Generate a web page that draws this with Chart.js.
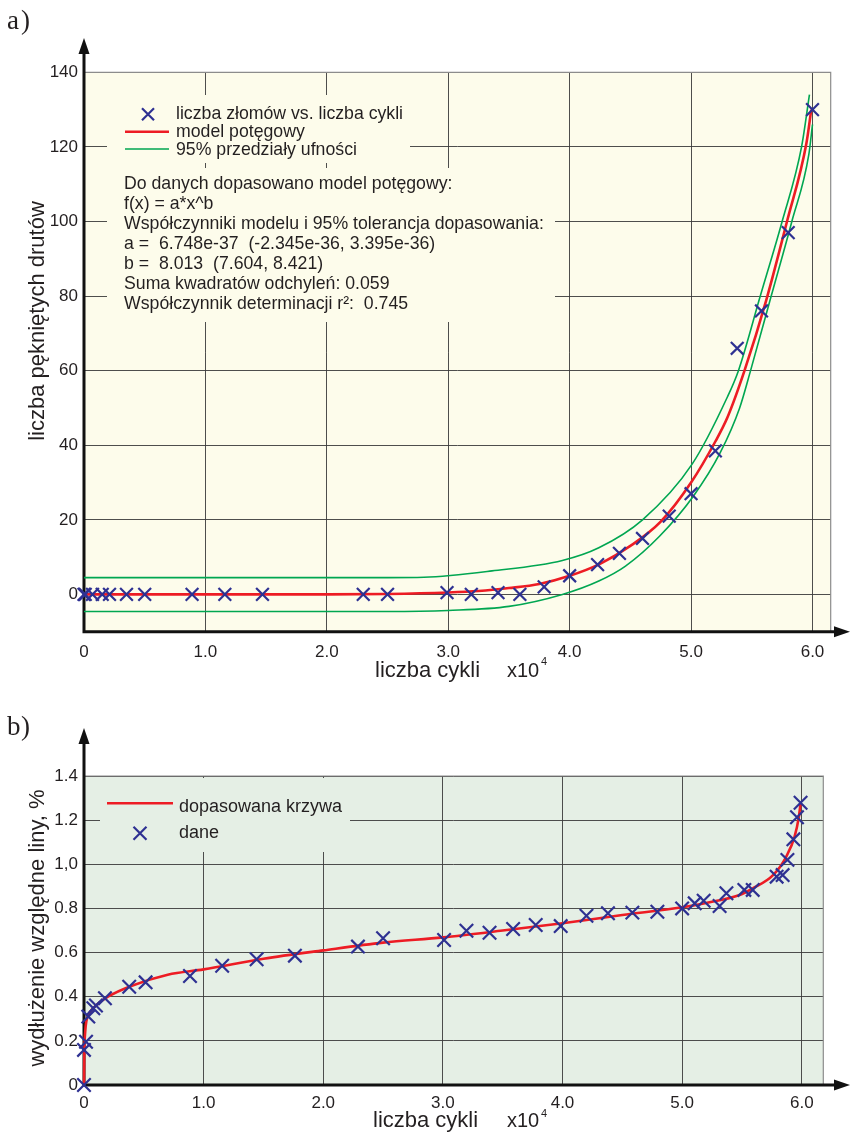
<!DOCTYPE html>
<html>
<head>
<meta charset="utf-8">
<script src="https://cdn.jsdelivr.net/npm/chart.js@4.4.0/dist/chart.umd.min.js"></script>
<style>
  html, body { margin: 0; padding: 0; background: #fff; }
  #wrapA { position: absolute; left: 0; top: 0; width: 850px; height: 690px; }
  #wrapB { position: absolute; left: 0; top: 690px; width: 850px; height: 443px; }
</style>
</head>
<body>
<div id="wrapA"><canvas id="chartA" width="850" height="690"></canvas></div>
<div id="wrapB"><canvas id="chartB" width="850" height="443"></canvas></div>
<script>
// ---- a) liczba złomów vs liczba cykli (x10^4) ----
const cyclesA = [0, 0.01, 0.07, 0.15, 0.21, 0.35, 0.5, 0.89, 1.16, 1.47, 2.3, 2.5, 2.99, 3.19, 3.41, 3.59, 3.79, 4.0, 4.23, 4.41, 4.6, 4.82, 5.0, 5.2, 5.38, 5.58, 5.8, 6.0];
const breaksA = [0, 0, 0, 0, 0, 0, 0, 0, 0, 0, 0, 0, 0.5, 0, 0.5, 0, 2, 5, 8, 11, 15, 21, 27, 38.5, 66, 76, 97, 130];
const modelX = [0, 1.0, 2.0, 2.5, 3.0, 3.25, 3.5, 3.75, 4.0, 4.25, 4.5, 4.75, 5.0, 5.2, 5.3, 5.44, 5.62, 5.79, 5.95, 5.99];
const modelY = [0, 0, 0, 0.1, 0.5, 0.9, 1.7, 2.8, 5, 8.2, 13, 19.5, 30, 41, 47.5, 60, 79, 100, 121, 130];
const upperX = [0, 2.5, 2.8, 3.36, 3.94, 4.24, 4.6, 5.01, 5.3, 5.39, 5.57, 5.75, 5.91, 5.975];
const upperY = [4.5, 4.5, 4.6, 6.3, 9.1, 12.5, 20, 35, 53, 60, 80, 100, 120, 134];
const lowerX = [0, 2.5, 3.0, 3.5, 3.94, 4.24, 4.46, 4.74, 5.02, 5.24, 5.4, 5.49, 5.66, 5.83, 5.97, 6.0];
const lowerY = [-4.6, -4.6, -4.3, -3.2, 0, 3.6, 7.6, 15.6, 26.4, 38, 50, 60, 80, 100, 118, 126];
const xTicks = [0, 1, 2, 3, 4, 5, 6];
const xLabels = ['0', '1.0', '2.0', '3.0', '4.0', '5.0', '6.0'];
const yTicksA = [0, 20, 40, 60, 80, 100, 120, 140];
const yLabelsA = ['0', '20', '40', '60', '80', '100', '120', '140'];
const legendA = ['liczba złomów vs. liczba cykli', 'model potęgowy', '95% przedziały ufności'];
const notesA = [
  'Do danych dopasowano model potęgowy:',
  'f(x) = a*x^b',
  'Współczynniki modelu i 95% tolerancja dopasowania:',
  'a =  6.748e-37  (-2.345e-36, 3.395e-36)',
  'b =  8.013  (7.604, 8.421)',
  'Suma kwadratów odchyleń: 0.059',
  'Współczynnik determinacji r²:  0.745'
];

// ---- b) wydłużenie względne liny ----
const cyclesB = [0, 0, 0.017, 0.036, 0.078, 0.1, 0.175, 0.378, 0.515, 0.886, 1.155, 1.443, 1.763, 2.29, 2.5, 3.01, 3.197, 3.39, 3.587, 3.776, 3.985, 4.2, 4.38, 4.584, 4.793, 5.0, 5.105, 5.18, 5.313, 5.37, 5.52, 5.59, 5.79, 5.84, 5.88, 5.93, 5.96, 5.99];
const elongB = [0, 0.159, 0.196, 0.31, 0.348, 0.36, 0.393, 0.445, 0.465, 0.494, 0.54, 0.57, 0.586, 0.627, 0.665, 0.657, 0.699, 0.69, 0.707, 0.725, 0.72, 0.767, 0.778, 0.781, 0.785, 0.80, 0.823, 0.835, 0.811, 0.869, 0.884, 0.884, 0.944, 0.951, 1.02, 1.113, 1.213, 1.279];
const fitX = [0, 0.003, 0.01, 0.02, 0.05, 0.1, 0.2, 0.4, 0.7, 1.0, 1.5, 2.0, 2.5, 3.0, 3.5, 4.0, 4.5, 5.0, 5.2, 5.48, 5.59, 5.76, 5.87, 5.94, 5.976, 5.99];
const fitY = [0, 0.15, 0.24, 0.29, 0.33, 0.36, 0.4, 0.45, 0.5, 0.524, 0.572, 0.61, 0.645, 0.669, 0.7, 0.733, 0.77, 0.805, 0.825, 0.861, 0.891, 0.951, 1.034, 1.125, 1.216, 1.276];
const yTicksB = [0, 0.2, 0.4, 0.6, 0.8, 1.0, 1.2, 1.4];
const yLabelsB = ['0', '0.2', '0.4', '0.6', '0.8', '1,0', '1.2', '1.4'];
const legendB = ['dopasowana krzywa', 'dane'];

const sans = '"Liberation Sans", Arial, sans-serif';
const serif = '"Liberation Serif", "Times New Roman", serif';
const ink = '#231F20';
const markColor = '#2E3192';
const redColor = '#ED1C24';
const greenColor = '#00A651';
const gridColor = '#3a3a3a';

function pts(xs, ys) {
  return xs.map((x, i) => ({ x: x, y: ys[i] }));
}

function cross(ctx, x, y, r) {
  ctx.beginPath();
  ctx.moveTo(x - r, y - r); ctx.lineTo(x + r, y + r);
  ctx.moveTo(x + r, y - r); ctx.lineTo(x - r, y + r);
  ctx.stroke();
}

function panelPlugin(cfg) {
  return {
    id: 'panel',
    beforeDraw(chart) {
      const a = chart.chartArea, ctx = chart.ctx;
      ctx.save();
      ctx.fillStyle = cfg.bg;
      ctx.fillRect(a.left, a.top, a.right - a.left, a.bottom - a.top);
      ctx.restore();
    },
    beforeDatasetsDraw(chart) {
      const a = chart.chartArea, ctx = chart.ctx;
      ctx.save();
      // boxes under the legend / notes hide the grid
      ctx.fillStyle = cfg.bg;
      cfg.boxes.forEach(b => ctx.fillRect(b[0], b[1], b[2], b[3]));
      ctx.strokeStyle = '#8c8c8c';
      ctx.lineWidth = 1.2;
      ctx.beginPath();
      ctx.moveTo(a.left, a.top); ctx.lineTo(a.right, a.top); ctx.lineTo(a.right, a.bottom);
      ctx.stroke();
      // axes with arrows
      ctx.strokeStyle = '#111';
      ctx.fillStyle = '#111';
      ctx.lineWidth = 3;
      ctx.beginPath();
      ctx.moveTo(a.left - 1.5, a.bottom); ctx.lineTo(cfg.xTip - 10, a.bottom);
      ctx.moveTo(a.left, a.bottom + 1.5); ctx.lineTo(a.left, cfg.yTip + 10);
      ctx.stroke();
      ctx.beginPath();
      ctx.moveTo(cfg.xTip, a.bottom); ctx.lineTo(cfg.xTip - 16, a.bottom - 5.5); ctx.lineTo(cfg.xTip - 16, a.bottom + 5.5); ctx.closePath();
      ctx.moveTo(a.left, cfg.yTip); ctx.lineTo(a.left - 5.5, cfg.yTip + 16); ctx.lineTo(a.left + 5.5, cfg.yTip + 16); ctx.closePath();
      ctx.fill();
      ctx.restore();
    },
    afterDraw(chart) {
      chart.ctx.save();
      cfg.drawText(chart.ctx);
      chart.ctx.restore();
    }
  };
}

function scalesFor(xMax, yMin, yMax, yTicks, yLabels, xHeight, xPad) {
  return {
    x: {
      type: 'linear', min: 0, max: xMax,
      afterBuildTicks: s => { s.ticks = xTicks.map(v => ({ value: v })); },
      afterFit: s => { s.height = xHeight; },
      grid: { color: gridColor, lineWidth: 0.9, drawTicks: false },
      border: { display: false },
      ticks: { padding: xPad, color: ink, maxRotation: 0, autoSkip: false,
               font: { family: sans, size: 17 }, callback: (v, i) => xLabels[i] }
    },
    y: {
      type: 'linear', min: yMin, max: yMax,
      afterBuildTicks: s => { s.ticks = yTicks.map(v => ({ value: v })); },
      afterFit: s => { s.width = 84; },
      grid: { color: gridColor, lineWidth: 0.9, drawTicks: false },
      border: { display: false },
      ticks: { padding: 6, color: ink, autoSkip: false,
               font: { family: sans, size: 17 }, callback: (v, i) => yLabels[i] }
    }
  };
}

const common = {
  responsive: false,
  animation: false,
  events: [],
  plugins: { legend: { display: false }, tooltip: { enabled: false } }
};

function drawPanelLabel(ctx, letter, baseline) {
  ctx.font = '27px ' + serif;
  ctx.fillText(letter, 7, baseline);
  ctx.fillText(')', 21, baseline);
}

// ---------- chart a) ----------
function drawTextA(ctx) {
  ctx.fillStyle = ink;
  drawPanelLabel(ctx, 'a', 29);
  ctx.font = '22px ' + sans;
  ctx.fillText('liczba cykli', 375, 677);
  ctx.font = '20px ' + sans;
  ctx.fillText('x10', 507, 677);
  ctx.font = '11px ' + sans;
  ctx.fillText('4', 541, 665);

  ctx.font = '17.7px ' + sans;
  ctx.fillText(legendA[0], 176, 118.5);
  ctx.fillText(legendA[1], 176, 137);
  ctx.fillText(legendA[2], 176, 155);
  notesA.forEach((t, i) => ctx.fillText(t, 124, 189 + i * 20));

  ctx.strokeStyle = markColor; ctx.lineWidth = 2.2;
  cross(ctx, 148, 114.3, 6);
  ctx.lineWidth = 2.5; ctx.strokeStyle = redColor;
  ctx.beginPath(); ctx.moveTo(125, 131.7); ctx.lineTo(169, 131.7); ctx.stroke();
  ctx.lineWidth = 1.6; ctx.strokeStyle = greenColor;
  ctx.beginPath(); ctx.moveTo(125, 149); ctx.lineTo(169, 149); ctx.stroke();

  ctx.fillStyle = ink;
  ctx.font = '22px ' + sans;
  ctx.translate(44, 321);
  ctx.rotate(-Math.PI / 2);
  ctx.textAlign = 'center';
  ctx.fillText('liczba pękniętych drutów', 0, 0);
}

new Chart(document.getElementById('chartA'), {
  type: 'scatter',
  data: {
    datasets: [
      { data: pts(cyclesA, breaksA), pointStyle: 'crossRot', pointRadius: 9, borderWidth: 2.2,
        borderColor: markColor, backgroundColor: markColor, showLine: false, clip: false },
      { data: pts(modelX, modelY), showLine: true, pointRadius: 0, borderColor: redColor,
        borderWidth: 2.6, cubicInterpolationMode: 'monotone', clip: false },
      { data: pts(upperX, upperY), showLine: true, pointRadius: 0, borderColor: greenColor,
        borderWidth: 1.6, cubicInterpolationMode: 'monotone', clip: false },
      { data: pts(lowerX, lowerY), showLine: true, pointRadius: 0, borderColor: greenColor,
        borderWidth: 1.6, cubicInterpolationMode: 'monotone', clip: false }
    ]
  },
  options: Object.assign({}, common, {
    layout: { padding: { left: 0, top: 72.3, right: 19.3, bottom: 0 } },
    scales: scalesFor(6.15, -10, 140, yTicksA, yLabelsA, 58.3, 10)
  }),
  plugins: [panelPlugin({
    bg: '#FDFCEB', xTip: 850, yTip: 38,
    boxes: [[107, 95, 303, 68], [107, 168, 448, 154]],
    drawText: drawTextA
  })]
});

// ---------- chart b) ----------
function drawTextB(ctx) {
  ctx.fillStyle = ink;
  drawPanelLabel(ctx, 'b', 45);
  ctx.font = '22px ' + sans;
  ctx.fillText('liczba cykli', 373, 436.7);
  ctx.font = '20px ' + sans;
  ctx.fillText('x10', 507, 436.7);
  ctx.font = '11px ' + sans;
  ctx.fillText('4', 541, 427);

  ctx.font = '18px ' + sans;
  ctx.fillText(legendB[0], 179, 121.7);
  ctx.fillText(legendB[1], 179, 148.3);
  ctx.lineWidth = 2.5; ctx.strokeStyle = redColor;
  ctx.beginPath(); ctx.moveTo(107, 113.3); ctx.lineTo(173, 113.3); ctx.stroke();
  ctx.strokeStyle = markColor; ctx.lineWidth = 2.2;
  cross(ctx, 140, 143.3, 6.5);

  ctx.fillStyle = ink;
  ctx.font = '22px ' + sans;
  ctx.translate(44, 238);
  ctx.rotate(-Math.PI / 2);
  ctx.textAlign = 'center';
  ctx.fillText('wydłużenie względne liny, %', 0, 0);
}

new Chart(document.getElementById('chartB'), {
  type: 'scatter',
  data: {
    datasets: [
      { data: pts(cyclesB, elongB), pointStyle: 'crossRot', pointRadius: 9.5, borderWidth: 2.2,
        borderColor: markColor, backgroundColor: markColor, showLine: false, clip: false },
      { data: pts(fitX, fitY), showLine: true, pointRadius: 0, borderColor: redColor,
        borderWidth: 2.6, cubicInterpolationMode: 'monotone', clip: false }
    ]
  },
  options: Object.assign({}, common, {
    layout: { padding: { left: 0, top: 86, right: 26.7, bottom: 0 } },
    scales: scalesFor(6.18, 0, 1.4, yTicksB, yLabelsB, 48, 8)
  }),
  plugins: [panelPlugin({
    bg: '#E5EFE5', xTip: 850, yTip: 38,
    boxes: [[100, 88, 250, 74]],
    drawText: drawTextB
  })]
});
</script>
</body>
</html>
